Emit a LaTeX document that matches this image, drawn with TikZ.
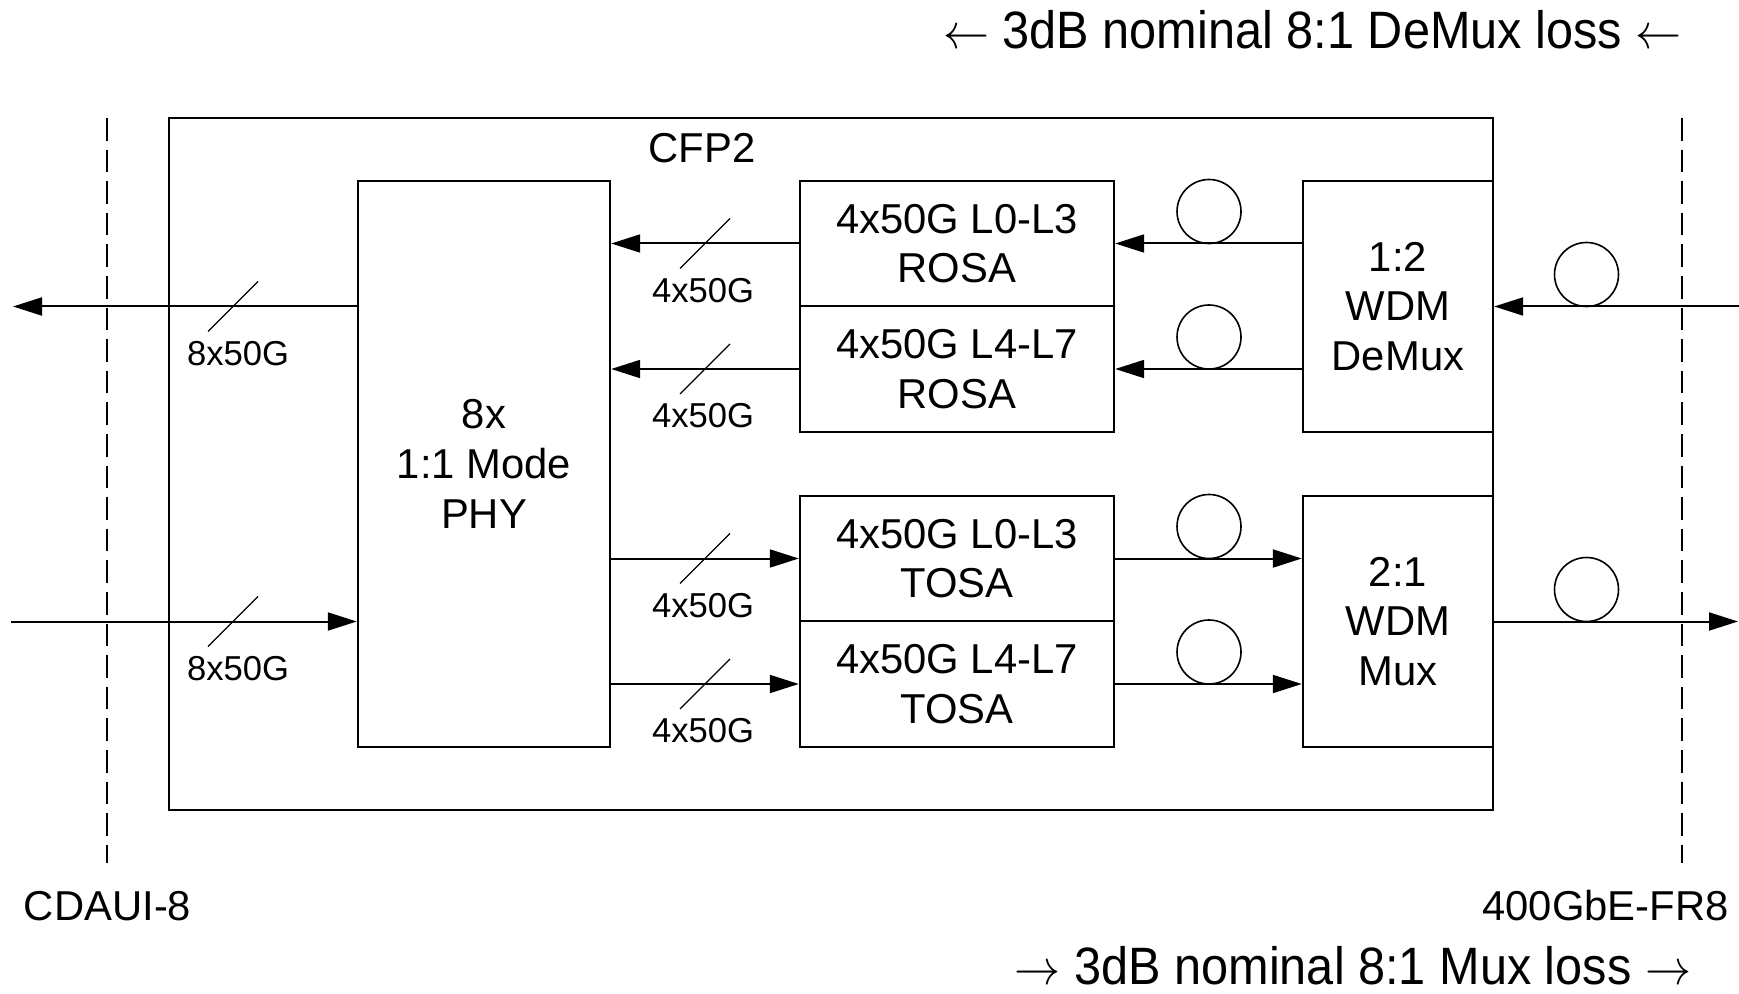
\documentclass[tikz,border=0pt]{standalone}
\usepackage{fontspec}
\setmainfont{Liberation Sans}
\usetikzlibrary{arrows.meta}
\usetikzlibrary{calc}
\usetikzlibrary{positioning}

\newcommand{\boxfont}{\fontsize{20.9}{24.8}\selectfont}
\newcommand{\busfont}{\fontsize{17.3}{20}\selectfont}
\newcommand{\lossfont}{\fontsize{26.3}{30}\selectfont}
% slash with lane count: name, centre on the line, text, x offset of the text
\newcommand{\busslash}[4]{%
    \draw [slash] ($(#2)+(-25,25)$) -- ($(#2)+(25,-25)$);
    \node [buslabel] (#1) at ($(#2)+(#4,47)$) {#3};}

\begin{document}
\begin{tikzpicture}[x=0.5pt,y=-0.5pt,
    box/.style={draw, line width=1.2pt, inner sep=0pt, align=center, font=\boxfont},
    sig/.style={line width=1pt, -{Triangle[length=14.5pt,width=9pt]}},
    slash/.style={line width=0.6pt},
    buslabel/.style={inner sep=0pt, font=\busfont},
    fibre/.style={draw, circle, line width=0.8pt, minimum size=32pt, inner sep=0pt},
    refline/.style={line width=1pt, dash pattern={on 11.3pt off 4.5pt}},
    plain/.style={inner sep=0pt, font=\boxfont}]
    \useasboundingbox (0,0) rectangle (1739,994);

    %Shape: Rectangle [CFP2 module]
    \node [box, minimum width=662pt, minimum height=346pt] (cfp) at (831,464) {};
    \node [plain, anchor=base] (cfpname) at (702,162.5) {CFP2};

    %Shape: Rectangle [PHY]
    \node [box, minimum width=126pt, minimum height=283pt] (phy) at (484,464) {8x\\1:1 Mode\\PHY};

    %Shape: Rectangle [ROSA pair]
    \node [box, minimum width=157pt, minimum height=62.75pt] (rosaA) at (957,243.5) {4x50G L0-L3\\ROSA};
    \node [box, minimum width=157pt, minimum height=62.75pt, below=-1.2pt of rosaA] (rosaB) {4x50G L4-L7\\ROSA};

    %Shape: Rectangle [TOSA pair]
    \node [box, minimum width=157pt, minimum height=62.75pt] (tosaA) at (957,558.5) {4x50G L0-L3\\TOSA};
    \node [box, minimum width=157pt, minimum height=62.75pt, below=-1.2pt of tosaA] (tosaB) {4x50G L4-L7\\TOSA};

    %Shape: Rectangle [WDM]
    \node [box, minimum width=95pt, minimum height=125.5pt] (demux) at (1398,306.5) {1:2\\WDM\\DeMux};
    \node [box, minimum width=95pt, minimum height=125.5pt] (mux) at (1398,621.5) {2:1\\WDM\\Mux};

    %Straight Lines [reference planes]
    \draw [refline] (106.5,118) -- (106.5,863);
    \draw [refline] (1681.5,118) -- (1681.5,863);
    \node [plain, anchor=base] (cdaui) at (107.6,920.5) {CDAUI-8};
    \node [plain, anchor=base] (fr8) at (1605.5,920.5) {400GbE-FR8};

    %Free ends of the outer lines
    \coordinate (cdauiOut) at (13,306.5);
    \coordinate (cdauiIn) at (11,621.5);
    \coordinate (fr8In) at (1739,306.5);
    \coordinate (fr8Out) at (1738,621.5);

    %Straight Lines [receive side]
    \draw [sig] (fr8In) -- (demux.east);
    \draw [sig] (demux.west |- rosaA) -- (rosaA.east);
    \draw [sig] (demux.west |- rosaB) -- (rosaB.east);
    \draw [sig] (rosaA.west) -- (rosaA.west -| phy.east);
    \draw [sig] (rosaB.west) -- (rosaB.west -| phy.east);
    \draw [sig] (phy.west |- demux) -- (cdauiOut);

    %Straight Lines [transmit side]
    \draw [sig] (cdauiIn) -- (phy.west |- mux);
    \draw [sig] (phy.east |- tosaA) -- (tosaA.west);
    \draw [sig] (phy.east |- tosaB) -- (tosaB.west);
    \draw [sig] (tosaA.east) -- (tosaA.east -| mux.west);
    \draw [sig] (tosaB.east) -- (tosaB.east -| mux.west);
    \draw [sig] (mux.east) -- (fr8Out);

    %Shape: Circle [fibre loops]
    \node [fibre] (fibA) at (1209,211.5) {};
    \node [fibre] (fibB) at (1209,337) {};
    \node [fibre] (fibC) at (1209,526.5) {};
    \node [fibre] (fibD) at (1209,652) {};
    \node [fibre] (fibIn) at (1586.5,274.5) {};
    \node [fibre] (fibOut) at (1586.5,589.5) {};

    %Slashes [lane counts]
    \busslash{busA}{705,243.5}{4x50G}{-2}
    \busslash{busB}{705,369}{4x50G}{-2}
    \busslash{busC}{705,558.5}{4x50G}{-2}
    \busslash{busD}{705,684}{4x50G}{-2}
    \busslash{busOut}{233,306.5}{8x50G}{5}
    \busslash{busIn}{233,621.5}{8x50G}{5}

    %Text [loss budget]
    \node [plain, anchor=base, font=\lossfont] (demuxloss) at (1312.5,48.8) {\scalebox{0.925}[1]{$\leftarrow$ 3dB nominal 8:1 DeMux loss $\leftarrow$}};
    \node [plain, anchor=base, font=\lossfont] (muxloss) at (1353,984) {\scalebox{0.925}[1]{$\rightarrow$ 3dB nominal 8:1 Mux loss $\rightarrow$}};
\end{tikzpicture}
\end{document}
